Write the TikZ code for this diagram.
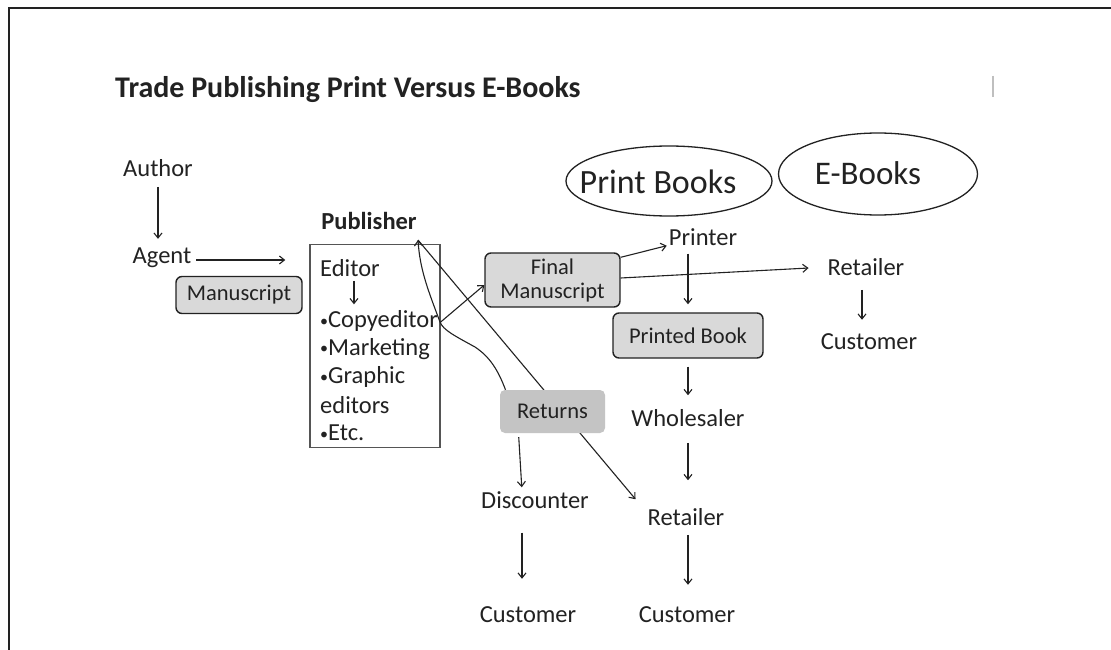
\documentclass[tikz,border=0pt]{standalone}
\usepackage{fontspec}
\setmainfont{Carlito}
\usetikzlibrary{shapes.geometric,arrows.meta}
\definecolor{ink}{HTML}{222222}
\definecolor{boxgray}{HTML}{D9D9D9}
\definecolor{retgray}{HTML}{C4C4C4}
\definecolor{framegray}{HTML}{555555}
\newcommand{\bul}{{\fontsize{16}{16}\selectfont\raisebox{1.5pt}{•}}}
\begin{document}
\begin{tikzpicture}[x=1pt,y=-1pt,
  every node/.style={inner sep=0pt, text=ink, font=\fontsize{24.5}{28}\selectfont},
  boxed/.style={draw=ink, line width=1.4pt, fill=boxgray, rounded corners=6pt,
    font=\fontsize{22.5}{24}\selectfont, align=center},
  arr/.style={draw=ink, line width=1.1pt, -{Straight Barb[length=5pt,width=8pt,line width=1.1pt]}},
  oval/.style={ellipse, draw=ink, line width=1.3pt},
  ]
\useasboundingbox (0,0) rectangle (1111,650);
\fill[white] (0,0) rectangle (1111,650);
% page frame (top and left edges)
\draw[line width=2pt, draw=ink] (9,650) -- (9,8) -- (1111,8);
\draw[line width=2pt, draw=black!25] (993,76) -- (993,97);

% title
\node[anchor=west, font=\fontsize{30}{34}\selectfont\bfseries] (title) at (115,90) {Trade Publishing Print Versus E-Books};

% headings
\node[oval, minimum width=206pt, minimum height=70pt] (printoval) at (669,181) {};
\node[font=\fontsize{34}{38}\selectfont] (printlbl) at (658,182) {Print Books};
\node[oval, minimum width=199pt, minimum height=82pt] (eoval) at (878,174) {};
\node[font=\fontsize{33}{38}\selectfont] (elbl) at (868,173) {E-Books};

% left column
\node (author) at (158,168) {Author};
\node (agent) at (162,258) {Agent};
\node[boxed, minimum width=126pt, minimum height=37pt] (manu) at (239,295) {Manuscript};

% publisher
\node[font=\fontsize{24.5}{28}\selectfont\bfseries] (pub) at (369,221) {Publisher};
\node[draw=framegray, line width=1.4pt, minimum width=130pt, minimum height=203pt] (edbox) at (375,346) {};
\node[anchor=west] (editor) at (320,268) {Editor};
\node[anchor=west] (copyed) at (320,321) {\bul Copyeditor};
\node[anchor=west] (market) at (320,349) {\bul Marketing};
\node[anchor=west] (graphic) at (320,377) {\bul Graphic};
\node[anchor=west] (graphic2) at (320,405) {editors};
\node[anchor=west] (etc) at (320,433) {\bul Etc.};
\coordinate (pubtip) at (418,240);

% print path
\node[boxed, minimum width=135pt, minimum height=54pt] (final) at (552.5,280) {Final\\Manuscript};
\node (printer) at (703,237) {Printer};
\node[boxed, minimum width=150pt, minimum height=45pt] (printed) at (688,335.5) {Printed Book};
\node (whole) at (688,418) {Wholesaler};
\node (retail2) at (686,517) {Retailer};
\node (cust2) at (687,615) {Customer};

% returns path
\node (disc) at (535,500) {Discounter};
\node (cust3) at (528,615) {Customer};

% e-book path
\node (retail1) at (866,267) {Retailer};
\node (cust1) at (869,342) {Customer};

% publisher to retailer, passing behind the returns box
\draw[arr] (pubtip) -- ([xshift=-12pt,yshift=9pt]retail2.north west);

\node[fill=retgray, rounded corners=5pt, minimum width=105pt, minimum height=43pt,
  font=\fontsize{22.5}{24}\selectfont] (returns) at (552.5,411.5) {Returns};

% connectors
\draw[arr, shorten <=10pt, shorten >=9pt] (author.south) -- (author.south |- agent.north);
\draw[arr, shorten <=5pt, shorten >=24pt] ([yshift=-2pt]agent.east) -- ([yshift=-2pt]agent.east -| edbox.west);
\draw[arr, shorten <=4pt, shorten >=6pt] ([xshift=4pt]editor.south) -- ([xshift=4pt]editor.south |- copyed.north);
\draw[arr] ([yshift=-1pt]edbox.east |- copyed) -- ([yshift=-5pt]final.west);
\draw[arr] ([yshift=-5pt]final.north east) -- ([xshift=-2pt]printer.south west);
\draw[arr, shorten >=19pt] ([yshift=2pt]final.east) -- (retail1.west);
\draw[arr, shorten <=14pt, shorten >=14pt] ([xshift=-4pt]retail1.south) -- ([xshift=-4pt]retail1.south |- cust1.north);
\draw[arr, shorten <=8pt, shorten >=8pt] (printer.south -| printed.north) -- (printed.north);
\draw[arr, shorten <=8pt, shorten >=14pt] (printed.south) -- (whole.north);
\draw[arr, shorten <=16pt, shorten >=28pt] (whole.south) -- (whole.south |- retail2.north);
\draw[arr, shorten <=9pt, shorten >=22pt] (retail2.south -| whole.south) -- (whole.south |- cust2.north);
\draw[arr, shorten <=4pt, shorten >=4pt] ([xshift=-34pt]returns.south) -- ([xshift=-13pt]disc.north);
\draw[arr, shorten <=24pt, shorten >=28pt] ([xshift=-13pt]disc.south) -- ([xshift=-13pt]disc.south |- cust3.north);
% returns back to the publisher
\draw[arr] ([xshift=-47pt]returns.north) .. controls (498,370) and (490,357) .. (475,347)
  .. controls (455,336) and (443,330) .. (440,322)
  .. controls (428,290) and (420,270) .. (pubtip);
\end{tikzpicture}
\end{document}
